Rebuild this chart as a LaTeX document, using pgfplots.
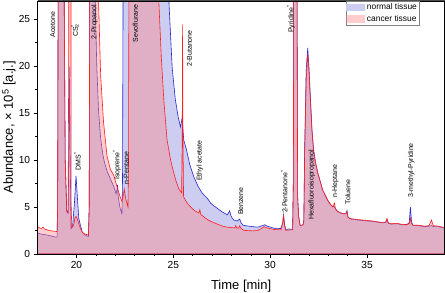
\documentclass[border=0pt]{standalone}
\usepackage{fontspec}
\setmainfont{Liberation Sans}
\usepackage{pgfplots}
\pgfplotsset{compat=1.18}
\definecolor{nline}{RGB}{40,40,205}
\definecolor{nfill}{RGB}{205,205,242}
\definecolor{cline}{RGB}{255,30,30}
\definecolor{cfill}{RGB}{255,130,130}
\newcommand\lf{\fontsize{7}{8}\selectfont}
\begin{document}
\begin{tikzpicture}
\useasboundingbox (-37.7pt,-39pt) rectangle (407.5pt,254pt);
\begin{axis}[scale only axis, width=407pt, height=253pt,
 xmin=18, xmax=39, ymin=0, ymax=26.9,
 xtick={20,25,30,35}, ytick={0,5,10,15,20,25},
 minor x tick num=4, minor y tick num=1,
 tick align=outside, tick pos=left,
 major tick length=4pt, minor tick length=2.5pt,
 tick style={black, line width=0.5pt},
 axis line style={black, line width=0.6pt},
 axis on top, clip mode=individual,
 /pgf/number format/assume math mode=true,
 tick label style={font=\fontsize{10.2}{12}\selectfont},
 xlabel={Time [min]}, ylabel={Abundance, × 10\textsuperscript{5} [a.j.]},
 label style={font=\fontsize{13}{15}\selectfont},
 xlabel style={at={(axis description cs:0.5,-0.129)}, anchor=center},
 ylabel style={at={(axis description cs:-0.0705,0.5)}, anchor=center},
 legend style={at={(0.9376,1.0)}, anchor=north east, draw=gray, font=\fontsize{8.4}{9.5}\selectfont,
   inner xsep=0pt, inner ysep=0.5pt, row sep=0pt, cells={anchor=west}},
 legend image code/.code={\fill[#1, draw=none] (0pt,-3.8pt) rectangle (19pt,3.8pt);},
]
\addplot[draw=nline, line width=0.6pt, fill=nfill] coordinates {
(18.0,2.2) (18.2,2.1) (18.35,2.05) (18.5,2.0) (18.7,1.9) (18.9,1.8) (19.0,1.78) (19.03,5) (19.06,30) (19.1,60) (19.3,60) (19.36,30) (19.42,10) (19.5,4.5) (19.57,4.3) (19.62,12) (19.65,19.9) (19.68,10) (19.72,2.7) (19.8,2.9) (19.9,5.5) (19.98,8.3) (20.05,6.0) (20.12,3.8) (20.2,3.1) (20.3,2.3) (20.45,2.0) (20.62,1.85) (20.66,5) (20.7,40) (20.9,60) (20.97,27) (21.05,20) (21.14,15.3) (21.25,12.3) (21.37,10.5) (21.45,9.7) (21.6,8.7) (21.75,8.0) (21.92,7.2) (22.05,6.4) (22.09,6.8) (22.12,7.3) (22.16,6.0) (22.25,4.9) (22.35,4.3) (22.38,8) (22.41,30) (22.45,60) (24.6,60) (24.77,27) (24.94,19.9) (25.1,16.5) (25.25,14.6) (25.37,13.5) (25.46,14.5) (25.5,13.2) (25.54,12.1) (25.68,11.1) (25.85,9.5) (26.06,8.2) (26.3,7.1) (26.5,6.45) (26.76,5.9) (26.93,5.4) (27.1,5.1) (27.27,4.85) (27.5,4.5) (27.79,4.15) (27.86,4.4) (27.91,4.6) (27.97,4.1) (28.05,3.75) (28.13,3.6) (28.3,3.5) (28.43,3.7) (28.5,3.3) (28.6,3.05) (28.9,2.95) (29.35,2.84) (29.6,3.0) (29.72,3.1) (29.85,2.95) (30.2,2.73) (30.55,2.7) (30.65,3.3) (30.69,4.15) (30.74,3.2) (30.8,2.6) (31.0,2.65) (31.16,2.6) (31.2,8) (31.24,60) (31.34,60) (31.42,6) (31.47,4.0) (31.55,3.0) (31.7,3.1) (31.74,3.6) (31.78,11) (31.86,19.5) (31.94,21.9) (32.0,20.0) (32.08,16.5) (32.16,13.2) (32.24,11.1) (32.35,9.6) (32.46,8.6) (32.6,7.6) (32.71,6.8) (32.85,6.2) (32.97,5.7) (33.1,5.3) (33.23,5.0) (33.3,5.05) (33.36,4.8) (33.49,4.5) (33.65,4.35) (33.83,4.25) (33.92,4.35) (33.97,4.6) (34.02,3.9) (34.15,3.7) (34.35,3.65) (34.53,3.6) (34.8,3.55) (35.05,3.5) (35.3,3.45) (35.57,3.37) (35.8,3.3) (35.97,3.35) (36.03,3.7) (36.1,3.25) (36.25,3.16) (36.45,3.2) (36.6,3.2) (36.8,3.1) (37.03,3.1) (37.18,3.3) (37.24,5.0) (37.3,3.4) (37.38,3.0) (37.64,3.0) (37.98,2.9) (38.2,2.95) (38.33,3.0) (38.45,2.9) (38.67,2.9) (39,2.73)
} \closedcycle;
\addlegendentry{normal tissue}
\addplot[draw=cline, line width=0.6pt, fill=cfill, fill opacity=0.4] coordinates {
(18.0,2.9) (18.1,2.75) (18.2,2.7) (18.29,2.85) (18.35,2.65) (18.5,2.55) (18.7,2.45) (18.9,2.4) (19.0,2.37) (19.03,5) (19.06,30) (19.1,60) (19.3,60) (19.36,30) (19.42,10) (19.5,4.6) (19.57,4.4) (19.6,20) (19.62,60) (19.7,60) (19.73,5) (19.76,2.8) (19.85,3.0) (19.92,3.8) (19.98,4.0) (20.05,3.7) (20.15,3.0) (20.3,2.3) (20.45,2.1) (20.62,2.0) (20.66,5) (20.7,40) (20.8,60) (21.1,60) (21.14,27) (21.25,19) (21.4,14) (21.58,10.4) (21.75,9.0) (21.92,8.4) (22.06,7.4) (22.12,7.0) (22.25,6.1) (22.35,5.6) (22.42,6.2) (22.47,6.9) (22.55,5.8) (22.66,5.0) (22.69,10) (22.72,40) (22.76,60) (24.1,60) (24.25,27) (24.38,21) (24.51,16.4) (24.68,12.1) (24.86,10.0) (25.0,8.8) (25.15,7.7) (25.29,6.9) (25.43,6.5) (25.46,12) (25.48,24.4) (25.5,12) (25.53,6.1) (25.6,5.8) (25.75,5.3) (25.89,5.0) (26.1,4.6) (26.32,4.35) (26.37,4.7) (26.42,4.2) (26.6,3.9) (26.8,3.6) (27.0,3.4) (27.3,3.15) (27.55,2.95) (27.79,2.84) (28.0,2.8) (28.17,2.75) (28.22,3.0) (28.28,2.75) (28.38,2.75) (28.43,3.0) (28.5,2.7) (28.65,2.5) (28.83,2.48) (29.1,2.45) (29.35,2.48) (29.55,2.7) (29.69,2.9) (29.85,2.75) (30.2,2.6) (30.55,2.55) (30.65,3.3) (30.69,4.15) (30.74,3.1) (30.8,2.5) (31.0,2.55) (31.16,2.55) (31.2,8) (31.24,60) (31.34,60) (31.42,6) (31.47,4.0) (31.55,3.0) (31.7,3.1) (31.74,3.5) (31.78,10.5) (31.86,18.5) (31.94,21.3) (32.0,19.5) (32.08,16.2) (32.16,13.0) (32.24,11.0) (32.35,9.6) (32.46,8.6) (32.6,7.6) (32.71,6.8) (32.85,6.2) (32.97,5.7) (33.1,5.3) (33.23,5.0) (33.28,5.2) (33.32,5.4) (33.37,4.8) (33.49,4.5) (33.65,4.35) (33.83,4.25) (33.92,4.3) (33.97,4.45) (34.02,3.9) (34.15,3.75) (34.35,3.7) (34.53,3.65) (34.8,3.6) (35.05,3.55) (35.3,3.5) (35.57,3.4) (35.8,3.35) (35.97,3.4) (36.03,3.75) (36.1,3.3) (36.25,3.2) (36.45,3.25) (36.6,3.22) (36.8,3.15) (37.03,3.12) (37.18,3.2) (37.24,3.8) (37.3,3.2) (37.38,3.05) (37.64,3.05) (37.98,2.95) (38.2,3.0) (38.33,3.6) (38.42,3.0) (38.67,2.95) (39,2.8)
} \closedcycle;
\addlegendentry{cancer tissue}
\draw[black!70, line width=2pt] (rel axis cs:0,1) -- (rel axis cs:1,1);
\begin{scope}[every node/.style={rotate=90, anchor=east, font=\lf, inner sep=0pt}]
\node at (axis cs:18.78,25.8) {Acetone};
\node at (axis cs:19.93,24.4) {CS\rlap{\textsubscript{2}}\textsuperscript{*}};
\node at (axis cs:20.93,26.5) {2-Propanol};
\node at (axis cs:23.04,26.5) {Sevoflurane};
\node at (axis cs:20.05,10.85) {DMS\textsuperscript{*}};
\node at (axis cs:22.09,11.05) {Isoprene\textsuperscript{*}};
\node at (axis cs:22.57,10.85) {n-Pentane};
\node at (axis cs:25.84,23.8) {2-Butanone};
\node at (axis cs:26.37,12.1) {Ethyl acetate};
\node at (axis cs:28.48,7.1) {Benzene};
\node at (axis cs:30.73,8.9) {2-Pentanone\textsuperscript{*}};
\node at (axis cs:31.07,26.5) {Pyridine\textsuperscript{*}};
\node at (axis cs:32.15,11.1) {Hexafluoroisopropanol};
\node at (axis cs:33.37,9.5) {n-Heptane};
\node at (axis cs:34.01,7.9) {Toluene};
\node at (axis cs:37.29,11.8) {3-methyl-Pyridine};
\end{scope}
\end{axis}
\end{tikzpicture}
\end{document}
